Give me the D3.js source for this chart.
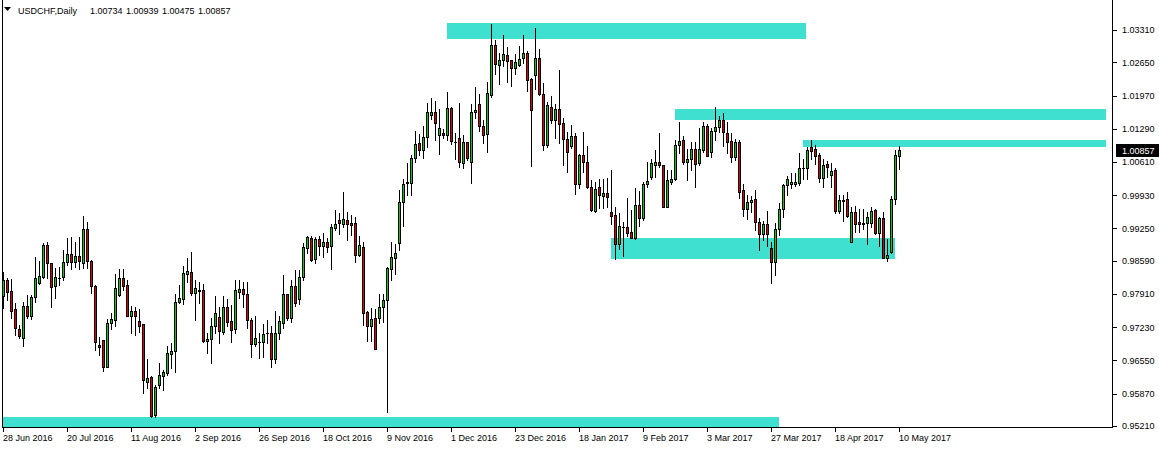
<!DOCTYPE html>
<html><head><meta charset="utf-8">
<script src="https://cdn.jsdelivr.net/npm/d3@7"></script>
<style>
body{margin:0;background:#fff;}
svg{display:block;}
text{font-family:"Liberation Sans",Arial,sans-serif;}
</style>
</head><body>
<svg id="chart" width="1159" height="449"></svg>
<script>
// ---------- data ----------
const symbolName = "USDCHF,Daily";
const lastOHLC = ["1.00734", "1.00939", "1.00475", "1.00857"];
const lastPrice = 1.00857;

const dateLabels = ["28 Jun 2016","20 Jul 2016","11 Aug 2016","2 Sep 2016","26 Sep 2016","18 Oct 2016","9 Nov 2016","1 Dec 2016","23 Dec 2016","18 Jan 2017","9 Feb 2017","3 Mar 2017","27 Mar 2017","18 Apr 2017","10 May 2017"];
const dateLabelBars = [0,16,32,48,64,80,96,112,128,144,160,176,192,208,224];

const priceTicks = [1.03310,1.02650,1.01970,1.01290,1.00610,0.99930,0.99250,0.98590,0.97910,0.97230,0.96550,0.95870,0.95210];

const opens = [0.9786,0.9820,0.9797,0.9760,0.9719,0.9702,0.9766,0.9747,0.9784,0.9814,0.9826,0.9891,0.9854,0.9808,0.9823,0.9825,0.9856,0.9872,0.9856,0.9869,0.9855,0.9924,0.9859,0.9807,0.9687,0.9697,0.9642,0.9732,0.9738,0.9788,0.9823,0.9810,0.9747,0.9756,0.9736,0.9730,0.9612,0.9621,0.9544,0.9605,0.9624,0.9629,0.9669,0.9675,0.9774,0.9780,0.9831,0.9836,0.9794,0.9799,0.9799,0.9695,0.9698,0.9726,0.9743,0.9714,0.9764,0.9736,0.9719,0.9796,0.9801,0.9790,0.9738,0.9688,0.9692,0.9692,0.9711,0.9711,0.9659,0.9712,0.9732,0.9790,0.9741,0.9807,0.9780,0.9825,0.9885,0.9905,0.9862,0.9904,0.9890,0.9897,0.9890,0.9927,0.9942,0.9934,0.9942,0.9937,0.9936,0.9871,0.9887,0.9754,0.9726,0.9741,0.9742,0.9764,0.9778,0.9842,0.9865,0.9895,0.9979,1.0019,1.0019,1.0069,1.0099,1.0085,1.0112,1.0158,1.0163,1.0116,1.0120,1.0116,1.0171,1.0102,1.0110,1.0058,1.0102,1.0062,1.0163,1.0180,1.0134,1.0118,1.0199,1.0300,1.0259,1.0270,1.0279,1.0269,1.0253,1.0260,1.0274,1.0284,1.0231,1.0238,1.0274,1.0200,1.0096,1.0173,1.0147,1.0169,1.0140,1.0108,1.0094,1.0114,1.0015,1.0075,1.0061,1.0010,0.9960,1.0010,0.9991,0.9997,0.9958,0.9952,0.9893,0.9928,0.9928,0.9917,0.9906,0.9974,0.9946,1.0017,1.0031,1.0054,1.0061,1.0055,0.9968,1.0021,1.0026,1.0095,1.0106,1.0060,1.0068,1.0087,1.0058,1.0085,1.0134,1.0081,1.0124,1.0133,1.0147,1.0121,1.0104,1.0072,1.0102,1.0004,0.9964,0.9979,0.9985,0.9938,0.9913,0.9934,0.9885,0.9856,0.9923,0.9964,1.0014,1.0016,1.0017,1.0019,1.0049,1.0048,1.0091,1.0088,1.0075,1.0028,1.0057,1.0034,1.0045,0.9961,0.9983,0.9985,0.9898,0.9958,0.9938,0.9936,0.9937,0.9936,0.9963,0.9915,0.9946,0.9864,0.9876,0.9985,1.00734];

const highs = [0.9837,0.9824,0.9822,0.9773,0.9728,0.9774,0.9789,0.9789,0.9866,0.9859,0.9895,0.9898,0.9854,0.9845,0.9847,0.9881,0.9905,0.9907,0.9897,0.9907,0.9951,0.9938,0.9861,0.9810,0.9703,0.9697,0.9740,0.9753,0.9831,0.9842,0.9843,0.9820,0.9766,0.9765,0.9760,0.9730,0.9658,0.9623,0.9605,0.9649,0.9636,0.9685,0.9690,0.9792,0.9810,0.9848,0.9864,0.9877,0.9820,0.9816,0.9812,0.9711,0.9741,0.9786,0.9764,0.9786,0.9781,0.9768,0.9820,0.9820,0.9816,0.9816,0.9741,0.9745,0.9711,0.9730,0.9738,0.9726,0.9756,0.9746,0.9830,0.9792,0.9820,0.9840,0.9840,0.9896,0.9909,0.9909,0.9907,0.9909,0.9915,0.9905,0.9934,0.9963,0.9956,1.0000,0.9959,0.9953,0.9949,0.9909,0.9898,0.9756,0.9762,0.9760,0.9791,0.9791,0.9847,0.9897,0.9893,1.0004,1.0026,1.0059,1.0076,1.0124,1.0118,1.0134,1.0182,1.0192,1.0185,1.0170,1.0129,1.0205,1.0173,1.0120,1.0182,1.0116,1.0102,1.0180,1.0214,1.0200,1.0147,1.0225,1.0343,1.0311,1.0284,1.0320,1.0296,1.0269,1.0282,1.0298,1.0320,1.0289,1.0233,1.0335,1.0292,1.0223,1.0184,1.0197,1.0180,1.0249,1.0151,1.0122,1.0136,1.0121,1.0078,1.0122,1.0093,1.0024,1.0020,1.0026,1.0026,1.0028,1.0045,0.9968,0.9956,0.9938,0.9987,0.9963,1.0007,1.0002,1.0021,1.0062,1.0068,1.0086,1.0121,1.0055,1.0045,1.0045,1.0105,1.0142,1.0115,1.0087,1.0101,1.0101,1.0130,1.0143,1.0139,1.0130,1.0174,1.0156,1.0162,1.0143,1.0120,1.0109,1.0106,1.0017,0.9993,0.9991,1.0004,0.9946,0.9941,0.9961,0.9898,0.9936,0.9978,1.0017,1.0032,1.0038,1.0038,1.0080,1.0068,1.0092,1.0107,1.0096,1.0080,1.0067,1.0064,1.0058,1.0049,0.9993,0.9993,0.9999,0.9969,0.9971,0.9965,0.9965,0.9959,0.9968,0.9965,0.9948,0.9959,0.9904,0.9991,1.0086,1.00939];

const lows = [0.9763,0.9779,0.9741,0.9707,0.9701,0.9685,0.9741,0.9739,0.9775,0.9812,0.9823,0.9824,0.9765,0.9782,0.9810,0.9820,0.9850,0.9842,0.9847,0.9843,0.9844,0.9844,0.9793,0.9677,0.9666,0.9634,0.9641,0.9720,0.9726,0.9786,0.9799,0.9745,0.9712,0.9707,0.9714,0.9589,0.9598,0.9539,0.9540,0.9598,0.9595,0.9625,0.9639,0.9632,0.9772,0.9771,0.9816,0.9789,0.9738,0.9772,0.9693,0.9671,0.9650,0.9711,0.9690,0.9709,0.9725,0.9693,0.9712,0.9782,0.9764,0.9721,0.9662,0.9685,0.9661,0.9662,0.9691,0.9641,0.9649,0.9698,0.9721,0.9737,0.9734,0.9767,0.9771,0.9820,0.9874,0.9859,0.9855,0.9871,0.9867,0.9876,0.9842,0.9922,0.9914,0.9929,0.9901,0.9911,0.9857,0.9869,0.9728,0.9695,0.9695,0.9679,0.9731,0.9734,0.9550,0.9820,0.9832,0.9881,0.9930,0.9994,0.9994,1.0061,1.0075,1.0069,1.0091,1.0148,1.0105,1.0077,1.0110,1.0107,1.0098,1.0068,1.0050,1.0049,1.0066,1.0018,1.0151,1.0124,1.0100,1.0081,1.0194,1.0240,1.0221,1.0258,1.0225,1.0216,1.0242,1.0257,1.0264,1.0207,1.0052,1.0211,1.0199,1.0086,1.0091,1.0141,1.0110,1.0100,1.0055,1.0041,1.0090,0.9996,1.0008,1.0041,1.0008,0.9960,0.9958,0.9966,0.9967,0.9969,0.9934,0.9862,0.9883,0.9869,0.9910,0.9905,0.9903,0.9931,0.9942,1.0009,1.0026,1.0031,1.0050,0.9968,0.9968,1.0017,1.0024,1.0079,1.0057,1.0024,1.0045,1.0009,1.0055,1.0082,1.0073,1.0072,1.0106,1.0122,1.0093,1.0079,1.0060,1.0065,0.9987,0.9950,0.9944,0.9958,0.9921,0.9881,0.9901,0.9889,0.9814,0.9830,0.9911,0.9949,0.9993,1.0007,1.0011,1.0013,1.0026,1.0027,1.0068,1.0056,1.0021,1.0010,1.0031,1.0010,0.9956,0.9956,0.9941,0.9948,0.9898,0.9918,0.9918,0.9923,0.9893,0.9929,0.9913,0.9889,0.9864,0.9859,0.9874,0.9976,1.00475];

const closes = [0.9820,0.9796,0.9757,0.9722,0.9706,0.9766,0.9747,0.9785,0.9824,0.9828,0.9891,0.9854,0.9806,0.9826,0.9824,0.9856,0.9872,0.9856,0.9869,0.9859,0.9924,0.9859,0.9808,0.9693,0.9683,0.9642,0.9731,0.9740,0.9803,0.9823,0.9808,0.9747,0.9756,0.9745,0.9726,0.9615,0.9620,0.9542,0.9601,0.9625,0.9632,0.9670,0.9675,0.9774,0.9782,0.9833,0.9838,0.9794,0.9803,0.9798,0.9695,0.9698,0.9726,0.9752,0.9716,0.9764,0.9733,0.9717,0.9799,0.9801,0.9790,0.9737,0.9688,0.9700,0.9693,0.9709,0.9712,0.9658,0.9711,0.9736,0.9790,0.9741,0.9807,0.9772,0.9825,0.9887,0.9907,0.9861,0.9904,0.9890,0.9898,0.9888,0.9928,0.9934,0.9936,0.9944,0.9934,0.9932,0.9871,0.9891,0.9753,0.9726,0.9739,0.9679,0.9764,0.9779,0.9844,0.9866,0.9874,0.9979,1.0017,1.0020,1.0069,1.0098,1.0085,1.0112,1.0163,1.0163,1.0140,1.0131,1.0116,1.0171,1.0103,1.0101,1.0062,1.0102,1.0069,1.0163,1.0167,1.0134,1.0116,1.0203,1.0300,1.0262,1.0269,1.0282,1.0268,1.0253,1.0265,1.0272,1.0284,1.0229,1.0168,1.0274,1.0200,1.0096,1.0177,1.0147,1.0169,1.0139,1.0109,1.0081,1.0114,1.0015,1.0076,1.0061,1.0010,0.9962,1.0006,0.9993,0.9998,0.9989,0.9951,0.9893,0.9930,0.9929,0.9915,0.9906,0.9974,0.9946,1.0017,1.0022,1.0058,1.0061,1.0054,0.9968,1.0024,1.0026,1.0096,1.0104,1.0060,1.0067,1.0087,1.0056,1.0087,1.0134,1.0074,1.0124,1.0133,1.0146,1.0122,1.0102,1.0072,1.0102,1.0000,0.9964,0.9979,0.9983,0.9939,0.9913,0.9934,0.9913,0.9856,0.9923,0.9964,1.0014,1.0026,1.0021,1.0021,1.0048,1.0048,1.0086,1.0084,1.0074,1.0028,1.0055,1.0050,1.0043,0.9961,0.9983,0.9981,0.9950,0.9958,0.9934,0.9934,0.9934,0.9948,0.9961,0.9915,0.9946,0.9864,0.9871,0.9985,1.0075,1.00857];

// support / resistance zones (bar index from/to, price top/bottom)
const zoneFrom   = [111, 168, 200, 152, 0];
const zoneTo     = [200.75, 275.75, 275.75, 223, 194];
const zoneTop    = [1.0345, 1.0169, 1.0106, 0.9906, 0.9540];
const zoneBottom = [1.0313, 1.0147, 1.0092, 0.9863, 0.9515];

// ---------- drawing ----------
const W = 1159, H = 449;
const plotLeft = 2, plotRight = 1112, plotTop = 0, plotBottom = 427;
const bullColor = "#00d200", bearColor = "#e00000", zoneColor = "#40e0d0";

const svg = d3.select("#chart");
svg.append("rect").attr("width", W).attr("height", H).attr("fill", "#fff");

const x = d3.scaleLinear().domain([0, 224]).range([3, 899]);
const y = d3.scaleLinear().domain([0.95210, 1.03310]).range([426, 30]);

svg.append("defs").append("clipPath").attr("id", "plotclip")
  .append("rect").attr("x", plotLeft).attr("y", plotTop)
  .attr("width", plotRight - plotLeft).attr("height", plotBottom - plotTop);

const plot = svg.append("g").attr("clip-path", "url(#plotclip)").attr("shape-rendering", "crispEdges");

// zones
const zones = d3.range(zoneFrom.length).map(i => ({from: zoneFrom[i], to: zoneTo[i], top: zoneTop[i], bottom: zoneBottom[i]}));
plot.selectAll("rect.zone").data(zones).join("rect").attr("class", "zone")
  .attr("x", d => Math.round(x(d.from)))
  .attr("width", d => Math.round(x(d.to)) - Math.round(x(d.from)))
  .attr("y", d => Math.round(y(d.top)))
  .attr("height", d => Math.round(y(d.bottom)) - Math.round(y(d.top)))
  .attr("fill", zoneColor);

// candles
const bars = d3.range(opens.length).map(i => ({i, o: opens[i], h: highs[i], l: lows[i], c: closes[i]}));
const g = plot.selectAll("g.candle").data(bars).join("g").attr("class", "candle");
g.each(function(d) {
  const el = d3.select(this);
  const cx = Math.round(x(d.i));
  const yh = Math.round(y(d.h)), yl = Math.round(y(d.l));
  const yo = Math.round(y(d.o)), yc = Math.round(y(d.c));
  const top = Math.min(yo, yc), bot = Math.max(yo, yc);
  el.append("rect").attr("x", cx).attr("y", yh).attr("width", 1).attr("height", yl - yh + 1).attr("fill", "#000");
  el.append("rect").attr("x", cx - 1).attr("y", top).attr("width", 3).attr("height", bot - top + 1).attr("fill", "#000");
  if (bot - top >= 2) {
    el.append("rect").attr("x", cx).attr("y", top + 1).attr("width", 1).attr("height", bot - top - 1)
      .attr("fill", d.c >= d.o ? bullColor : bearColor);
  }
});

// frame
const frame = svg.append("g").attr("shape-rendering", "crispEdges").attr("stroke", "#000").attr("stroke-width", 1);
frame.append("line").attr("x1", plotLeft + 0.5).attr("x2", plotLeft + 0.5).attr("y1", plotTop).attr("y2", plotBottom + 1);
frame.append("line").attr("x1", plotRight + 0.5).attr("x2", plotRight + 0.5).attr("y1", plotTop).attr("y2", plotBottom + 1);
frame.append("line").attr("x1", plotLeft).attr("x2", plotRight + 1).attr("y1", plotBottom + 0.5).attr("y2", plotBottom + 0.5);

// price axis
const yAxis = d3.axisRight(y).tickValues(priceTicks).tickFormat(d3.format(".5f")).tickSize(4).tickPadding(5);
const ya = svg.append("g").attr("transform", `translate(${plotRight + 1},0)`).call(yAxis);
ya.select(".domain").remove();
ya.selectAll("line").attr("stroke", "#000").attr("shape-rendering", "crispEdges");
ya.selectAll("text").attr("font-size", 9).attr("fill", "#000").attr("font-family", "Liberation Sans, Arial, sans-serif");

// current price label
const ly = Math.round(y(lastPrice));
svg.append("rect").attr("x", plotRight + 4).attr("y", ly - 6).attr("width", W - plotRight - 4).attr("height", 13).attr("fill", "#000");
svg.append("text").attr("x", plotRight + 10).attr("y", ly + 3.5).attr("font-size", 9).attr("fill", "#fff").text(d3.format(".5f")(lastPrice));

// date axis
const xa = svg.append("g").attr("shape-rendering", "crispEdges");
dateLabelBars.forEach((b, j) => {
  const px = Math.round(x(b));
  xa.append("rect").attr("x", px).attr("y", plotBottom + 1).attr("width", 1).attr("height", 4).attr("fill", "#000");
  xa.append("text").attr("x", px).attr("y", 441).attr("font-size", 9).attr("fill", "#000").text(dateLabels[j]);
});

// header
svg.append("path").attr("d", "M4,7 L11,7 L7.5,11 Z").attr("fill", "#000");
const hdr = svg.append("text").attr("y", 14).attr("font-size", 9).attr("fill", "#000");
hdr.append("tspan").attr("x", 18).text(symbolName);
lastOHLC.forEach((v, i) => hdr.append("tspan").attr("x", 90 + i * 36).text(v));
</script>
</body></html>
